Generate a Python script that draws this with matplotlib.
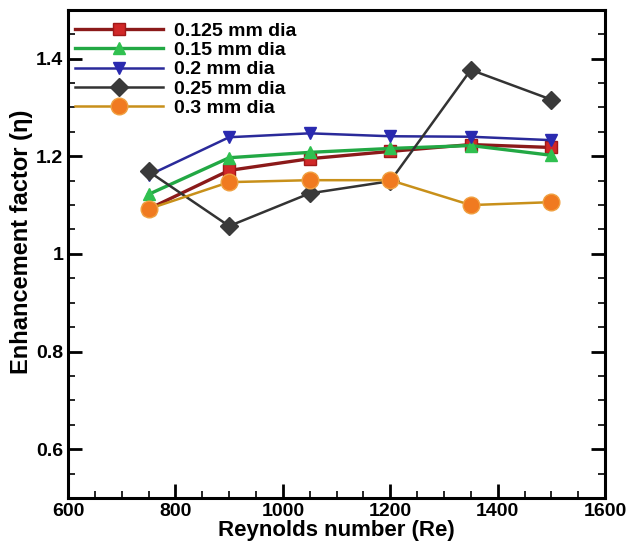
import matplotlib
matplotlib.use("Agg")
import matplotlib.pyplot as plt
from matplotlib.ticker import MultipleLocator

# ----------------------------------------------------
# Data
# ----------------------------------------------------
reynolds = [750, 900, 1050, 1200, 1350, 1500]

dia_0125 = [1.092, 1.171, 1.195, 1.210, 1.224, 1.218]
dia_015 = [1.122, 1.197, 1.208, 1.216, 1.222, 1.202]
dia_02 = [1.161, 1.239, 1.247, 1.241, 1.240, 1.233]
dia_025 = [1.169, 1.057, 1.124, 1.149, 1.377, 1.316]
dia_03 = [1.092, 1.147, 1.151, 1.151, 1.100, 1.106]

labels = ["0.125 mm dia", "0.15 mm dia", "0.2 mm dia", "0.25 mm dia", "0.3 mm dia"]

plt.rcParams["font.family"] = ["Liberation Sans", "DejaVu Sans"]
plt.rcParams["font.weight"] = "bold"

fig = plt.figure(figsize=(6.27, 5.46), dpi=100)
ax = fig.add_axes([0.1085, 0.088, 0.8565, 0.894])

ax.plot(reynolds, dia_0125, color="#8b1a1a", lw=2.4, marker="s", ms=9,
        mfc="#d02828", mec="#a01818", label=labels[0])
ax.plot(reynolds, dia_015, color="#22a844", lw=2.4, marker="^", ms=9,
        mfc="#30c050", mec="#30c050", label=labels[1])
ax.plot(reynolds, dia_02, color="#2a2a9a", lw=1.8, marker="v", ms=9,
        mfc="#2a2ab0", mec="#2a2ab0", label=labels[2])
ax.plot(reynolds, dia_025, color="#333333", lw=1.8, marker="D", ms=9,
        mfc="#3a3a3a", mec="#3a3a3a", label=labels[3])
ax.plot(reynolds, dia_03, color="#c8901a", lw=1.8, marker="o", ms=12,
        mfc="#f07a20", mec="#f0a040", label=labels[4])

ax.set_xlim(600, 1600)
ax.set_ylim(0.5, 1.5)
ax.xaxis.set_major_locator(MultipleLocator(200))
ax.xaxis.set_minor_locator(MultipleLocator(50))
ax.yaxis.set_minor_locator(MultipleLocator(0.05))
ax.set_yticks([0.6, 0.8, 1.0, 1.2, 1.4])
ax.set_yticklabels(["0.6", "0.8", "1", "1.2", "1.4"])

ax.tick_params(which="both", direction="in", top=False, right=True,
               labelsize=14, width=2)
ax.tick_params(which="major", length=10)
ax.tick_params(which="minor", length=5, width=1.2)
for sp in ax.spines.values():
    sp.set_linewidth(2.2)

ax.set_xlabel("Reynolds number (Re)", fontsize=16, fontweight="bold", labelpad=0)
ax.set_ylabel("Enhancement factor (\u03b7)", fontsize=17, fontweight="bold")
ax.yaxis.set_label_coords(-0.066, 0.525)

leg = ax.legend(loc="upper left", bbox_to_anchor=(-0.01, 1.0), frameon=False,
                fontsize=14, handlelength=4.5, handletextpad=0.6,
                labelspacing=0.08, borderpad=0.55, borderaxespad=0.1)

fig.savefig("out.png", dpi=100)
